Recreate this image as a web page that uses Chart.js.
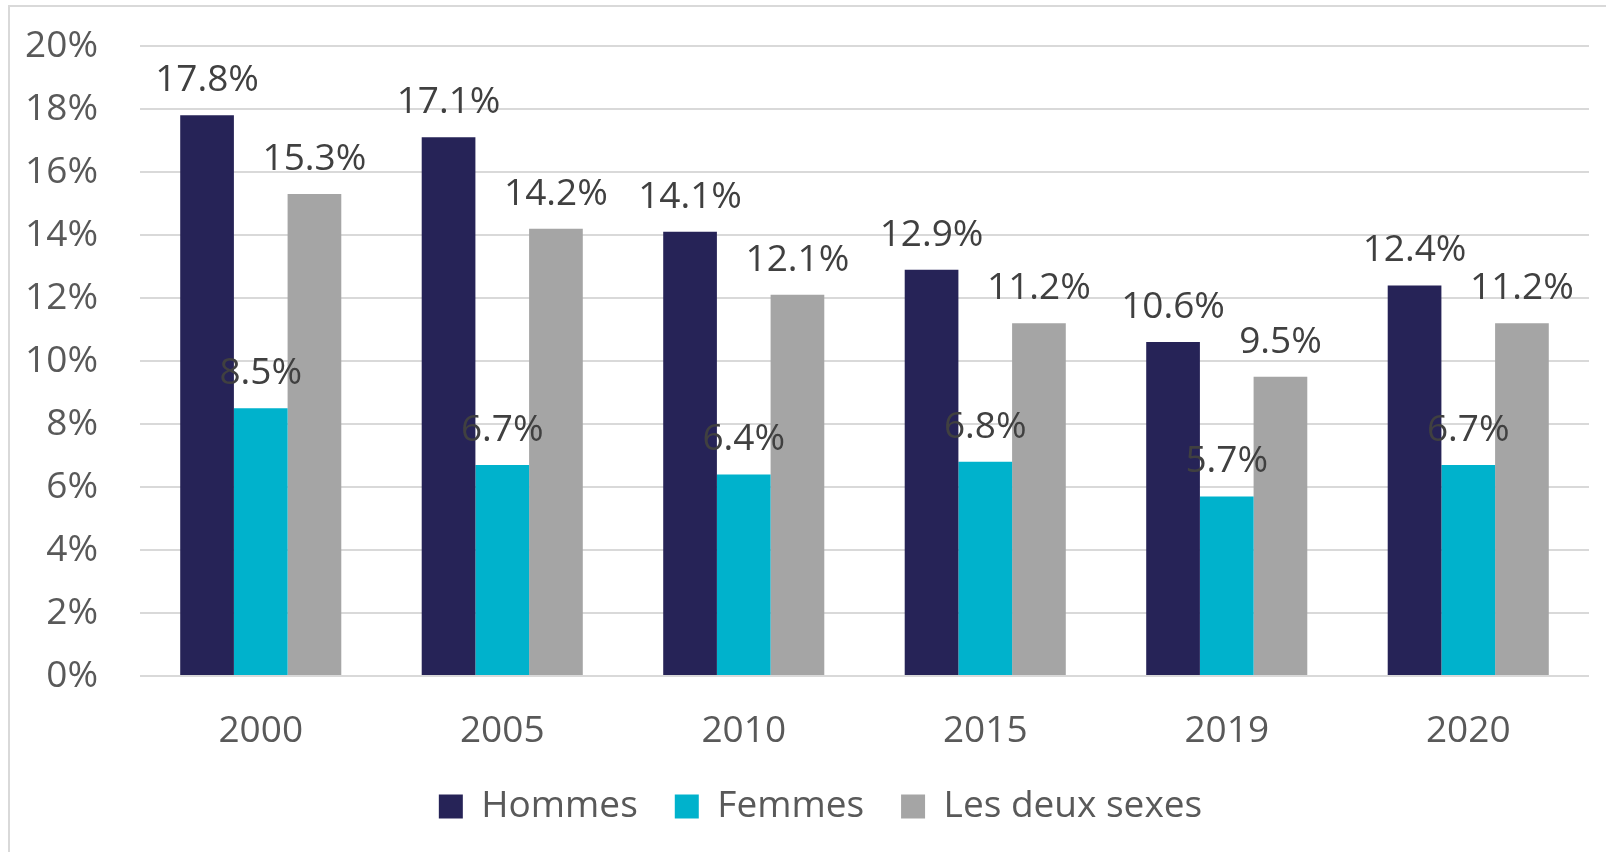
<!DOCTYPE html>
<html>
<head>
<meta charset="utf-8">
<script src="https://cdn.jsdelivr.net/npm/chart.js@4"></script>
<style>
    html, body { margin: 0; padding: 0; background: #ffffff; }
    #wrap { width: 1606px; height: 852px; position: relative; }
</style>
</head>
<body>
<div id="wrap"><canvas id="tauxChart"></canvas></div>
<script>
// Taux par sexe, 2000-2020 â€“ Chart.js

const annees = ['2000', '2005', '2010', '2015', '2019', '2020'];
const hommes = [17.8, 17.1, 14.1, 12.9, 10.6, 12.4];
const femmes = [8.5, 6.7, 6.4, 6.8, 5.7, 6.7];
const lesDeux = [15.3, 14.2, 12.1, 11.2, 9.5, 11.2];
const ticksY = [0, 2, 4, 6, 8, 10, 12, 14, 16, 18, 20];

const police = "'Open Sans', sans-serif";
const taille = 37;

// cadre gris autour du graphique
const cadre = {
    id: 'cadre',
    beforeDraw(chart) {
        const c = chart.ctx;
        c.save();
        c.strokeStyle = '#d9d9d9';
        c.lineWidth = 2;
        c.strokeRect(9, 6, 1700, 900);
        c.restore();
    }
};

// légende un peu décalée vers la droite, comme dans l'original
const decalLegende = {
    id: 'decalLegende',
    afterLayout(chart) {
        if (!chart.legend) return;
        chart.legend.left += 22;
        chart.legend.right += 22;
    }
};

// étiquettes de valeur au-dessus des barres
const etiquettes = {
    id: 'etiquettes',
    afterDatasetsDraw(chart) {
        const c = chart.ctx;
        c.save();
        c.font = taille + 'px ' + police;
        c.fillStyle = '#404040';
        c.textAlign = 'center';
        c.textBaseline = 'alphabetic';
        chart.data.datasets.forEach(function (ds, i) {
            chart.getDatasetMeta(i).data.forEach(function (bar, j) {
                c.fillText(ds.data[j].toFixed(1) + '%', bar.x, bar.y - 24);
            });
        });
        c.restore();
    }
};

const ctx = document.getElementById('tauxChart').getContext('2d');

new Chart(ctx, {
    type: 'bar',
    data: {
        labels: annees,
        datasets: [
            { label: 'Hommes', data: hommes, backgroundColor: '#262357' },
            { label: 'Femmes', data: femmes, backgroundColor: '#00b2cc' },
            { label: 'Les deux sexes', data: lesDeux, backgroundColor: '#a5a5a5' },
        ],
    },
    options: {
        responsive: true,
        maintainAspectRatio: false,
        animation: false,
        layout: { padding: { left: 8, right: 17, top: 46, bottom: 17 } },
        datasets: {
            bar: { categoryPercentage: 0.667, barPercentage: 1.0 }
        },
        plugins: {
            legend: {
                display: true,
                position: 'bottom',
                labels: {
                    boxWidth: 24,
                    boxHeight: 24,
                    padding: 37,
                    color: '#595959',
                    font: { family: police, size: taille }
                },
            },
            tooltip: { enabled: false },
        },
        scales: {
            x: {
                afterFit: function (scale) { scale.height = 75; },
                grid: { display: false },
                border: { display: false },
                ticks: {
                    color: '#595959',
                    padding: 25,
                    font: { family: police, size: taille }
                },
            },
            y: {
                min: 0,
                max: 20,
                afterFit: function (scale) {
                    scale.width = 132;
                    scale.paddingTop = 0;
                    scale.paddingBottom = 0;
                },
                afterBuildTicks: function (scale) {
                    scale.ticks = ticksY.map(function (v) { return { value: v }; });
                },
                grid: { color: '#d9d9d9', lineWidth: 2, drawTicks: false },
                border: { display: false },
                ticks: {
                    color: '#595959',
                    padding: 42,
                    font: { family: police, size: taille },
                    callback: function (v) { return v + '%'; }
                },
            },
        },
    },
    plugins: [cadre, decalLegende, etiquettes],
});
</script>
</body>
</html>
